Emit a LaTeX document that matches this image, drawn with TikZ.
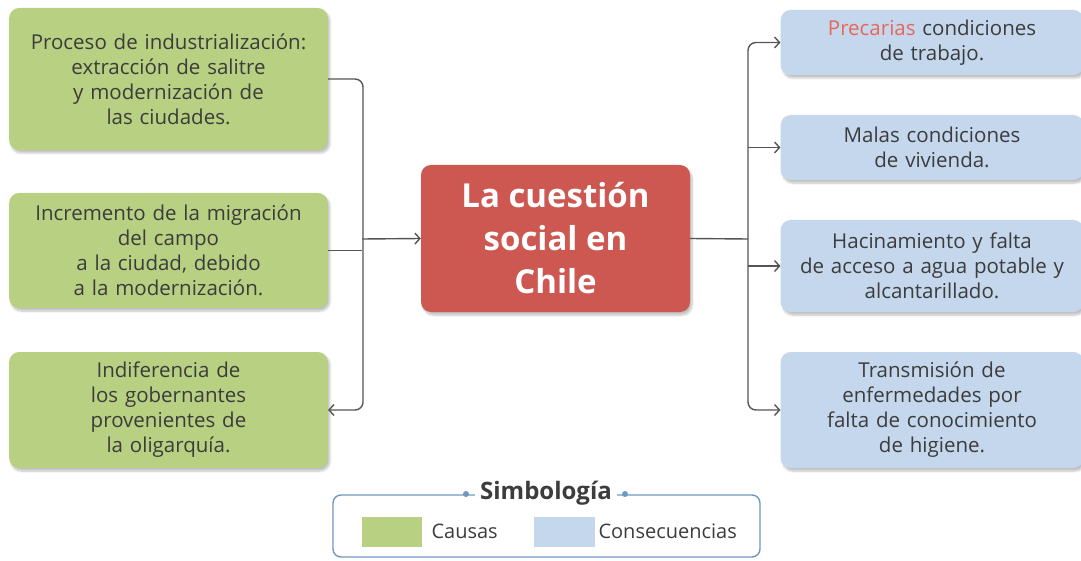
\documentclass[tikz,border=0pt]{standalone}
\usepackage{fontspec}
\setmainfont{Open Sans}
\usepackage{tikz}
\usetikzlibrary{arrows.meta, shadows.blur}

\definecolor{causagreen}{HTML}{B7D082}
\definecolor{consblue}{HTML}{C4D7ED}
\definecolor{titlered}{HTML}{CD5851}
\definecolor{textgray}{HTML}{3C3C3C}
\definecolor{linegray}{HTML}{555555}
\definecolor{legendblue}{HTML}{6F98C0}
\definecolor{accentred}{HTML}{E8675A}

\tikzset{
  box/.style={rounded corners=10pt, align=center, text=textgray,
    font=\fontsize{20.5}{25}\selectfont,
    blur shadow={shadow xshift=2pt, shadow yshift=-3pt, shadow opacity=25, shadow blur steps=6}},
  causa/.style={box, fill=causagreen, minimum width=317pt, text width=312pt},
  consecuencia/.style={box, fill=consblue, minimum width=298pt, text width=296pt},
  conn/.style={draw=linegray, line width=1.4pt},
  tip/.style={-{Straight Barb[length=5pt, width=11pt]}},
  dot/.style={circle, fill=legendblue, inner sep=0pt, minimum size=6pt}
}

\begin{document}
\begin{tikzpicture}[x=1pt, y=-1pt]
\useasboundingbox (0,0) rectangle (1081,561);

% causas
\node[causa, minimum height=142pt] (cause1) at (168.5,79)
  {Proceso de industrialización:\\ extracción de salitre\\ y modernización de\\ las ciudades.};
\node[causa, minimum height=115pt] (cause2) at (168.5,250.5)
  {Incremento de la migración\\ del campo\\ a la ciudad, debido\\ a la modernización.};
\node[causa, minimum height=116pt] (cause3) at (168.5,410)
  {Indiferencia de\\ los gobernantes\\ provenientes de\\ la oligarquía.};

% centro
\node[box, fill=titlered, text=white, minimum width=269pt, minimum height=147pt,
  font=\bfseries\fontsize{33}{43}\selectfont] (center) at (555.5,238.5)
  {La cuestión\\ social en\\ Chile};

% consecuencias
\node[consecuencia, minimum height=65pt] (cons1) at (932,42.5)
  {\textcolor{accentred}{Precarias} condiciones\\ de trabajo.};
\node[consecuencia, minimum height=65pt] (cons2) at (932,147.5)
  {Malas condiciones\\ de vivienda.};
\node[consecuencia, minimum height=92pt] (cons3) at (932,266)
  {Hacinamiento y falta\\ de acceso a agua potable y\\ alcantarillado.};
\node[consecuencia, minimum height=116pt] (cons4) at (932,410)
  {Transmisión de\\ enfermedades por\\ falta de conocimiento\\ de higiene.};

\coordinate (lbus) at (362,239);
\coordinate (rbus) at (748,239);

% lado izquierdo
\draw[conn, tip, rounded corners=8pt] (cause1.east) -- ++(35,0) |- (cause3.east);
\draw[conn] (cause2.east) -- (cause2.east -| lbus);
\draw[conn, tip] (lbus) -- (center.west);

% lado derecho
\draw[conn] (center.east) -- (rbus);
\draw[conn, tip, rounded corners=8pt] (rbus) |- (cons1.west);
\draw[conn, tip, rounded corners=8pt] (rbus) |- (cons4.west);
\draw[conn, tip] (cons2.west -| rbus) -- (cons2.west);
\draw[conn, tip] (cons3.west -| rbus) -- (cons3.west);

% simbologia
\node[draw=legendblue, line width=1.4pt, rounded corners=8pt,
  minimum width=427pt, minimum height=62pt] (legend) at (546.5,526) {};
\node[fill=white, inner xsep=5pt, text=textgray,
  font=\bfseries\fontsize{24}{25}\selectfont] (simb) at (546,493) {Simbología};
\node[dot] (dotl) at (466,494) {};
\node[dot] (dotr) at (625,494) {};
\node[fill=causagreen, minimum width=60pt, minimum height=30pt] (swgreen) at (392,532) {};
\node[fill=consblue, minimum width=61pt, minimum height=30pt] (swblue) at (564.5,532) {};
\node[anchor=west, text=textgray, font=\fontsize{20}{22}\selectfont] (lcausas) at (428,531) {Causas};
\node[anchor=west, text=textgray, font=\fontsize{20}{22}\selectfont] (lcons) at (595,531) {Consecuencias};

\end{tikzpicture}
\end{document}
